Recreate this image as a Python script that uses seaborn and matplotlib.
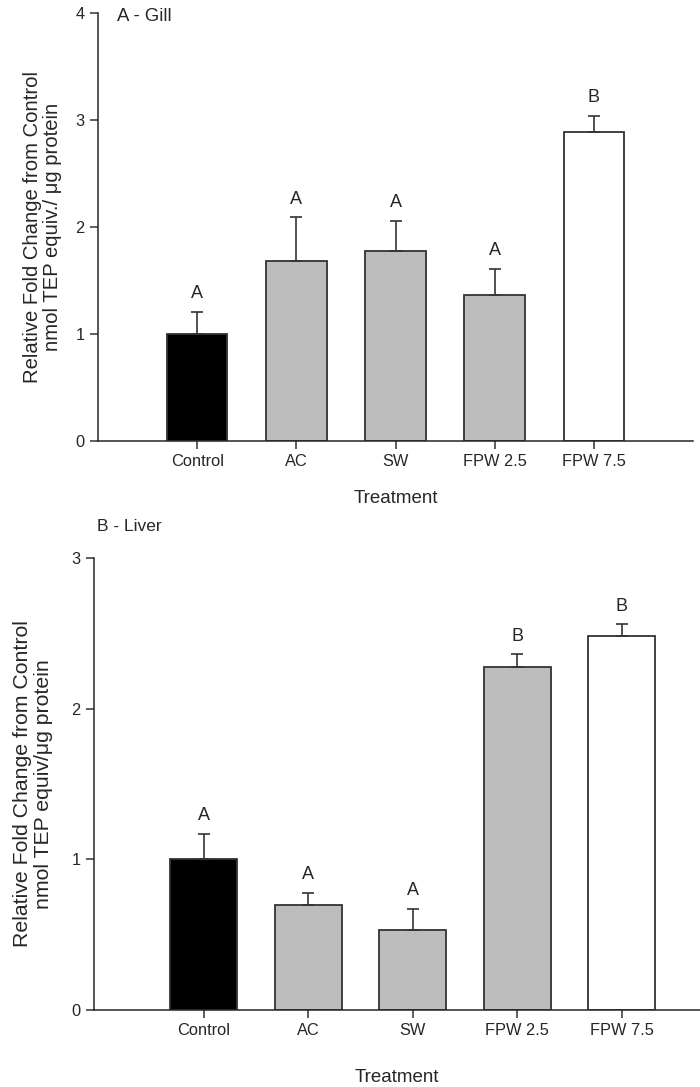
import matplotlib
matplotlib.use("Agg")
import matplotlib.pyplot as plt
import seaborn as sns
import pandas as pd

# значения
treatments = ["Control", "AC", "SW", "FPW 2.5", "FPW 7.5"]
gill_mean = [1.0, 1.68, 1.78, 1.36, 2.89]
gill_err = [0.21, 0.41, 0.28, 0.25, 0.15]
gill_letters = ["A", "A", "A", "A", "B"]
liver_mean = [1.0, 0.70, 0.53, 2.28, 2.48]
liver_err = [0.17, 0.08, 0.14, 0.08, 0.08]
liver_letters = ["A", "A", "A", "B", "B"]
bar_colors = ["black", "#bdbdbd", "#bdbdbd", "#bdbdbd", "white"]

sns.set_style("ticks")
plt.rcParams["font.family"] = ["Liberation Sans", "DejaVu Sans"]

fig = plt.figure(figsize=(7, 10.87), dpi=100)
ax1 = fig.add_axes([0.14, 0.5943, 0.85, 0.3937])
ax2 = fig.add_axes([0.1343, 0.0708, 0.8657, 0.4158])


def draw_panel(ax, means, errs, letters, ymax, xlim, width, ylabel, ylsize):
    df = pd.DataFrame({"Treatment": treatments, "value": means})
    sns.barplot(
        data=df, x="Treatment", y="value", hue="Treatment",
        palette=dict(zip(treatments, bar_colors)), width=width,
        edgecolor="#333333", linewidth=1.3, legend=False, ax=ax,
    )
    # только верхние усы
    ax.errorbar(
        range(len(treatments)), means, yerr=[[0] * len(errs), errs],
        fmt="none", ecolor="#333333", elinewidth=1.2, capsize=4, capthick=1.2,
    )
    for i, (m, e, lt) in enumerate(zip(means, errs, letters)):
        ax.annotate(lt, (i, m + e), xytext=(0, 7), textcoords="offset points",
                    ha="center", va="bottom", fontsize=13)
    ax.set_ylim(0, ymax)
    ax.set_yticks(range(ymax + 1))
    ax.set_xlim(*xlim)
    sns.despine(ax=ax)
    ax.spines["left"].set_linewidth(1.1)
    ax.spines["bottom"].set_linewidth(1.1)
    ax.tick_params(axis="both", length=6, width=1.1, labelsize=11.8, color="#333333")
    ax.set_ylabel(ylabel, fontsize=ylsize, linespacing=1.1)
    ax.set_xlabel("Treatment", fontsize=13.5)


draw_panel(ax1, gill_mean, gill_err, gill_letters, 4, (-1.0, 5.0), 0.61,
           "Relative Fold Change from Control\nnmol TEP equiv./ \u03bcg protein", 14.6)
draw_panel(ax2, liver_mean, liver_err, liver_letters, 3, (-1.05, 4.75), 0.64,
           "Relative Fold Change from Control\nnmol TEP equiv/\u03bcg protein", 15.3)

ax1.yaxis.set_label_coords(-0.06, 0.5)
ax1.xaxis.labelpad = 15
ax2.yaxis.set_label_coords(-0.068, 0.5)
ax2.xaxis.labelpad = 22

ax1.text(0.032, 0.993, "A - Gill", transform=ax1.transAxes, ha="left", va="center", fontsize=13.4)
ax2.text(0.005, 1.069, "B - Liver", transform=ax2.transAxes, ha="left", va="center", fontsize=12.5)

fig.savefig("out.png", dpi=100)
